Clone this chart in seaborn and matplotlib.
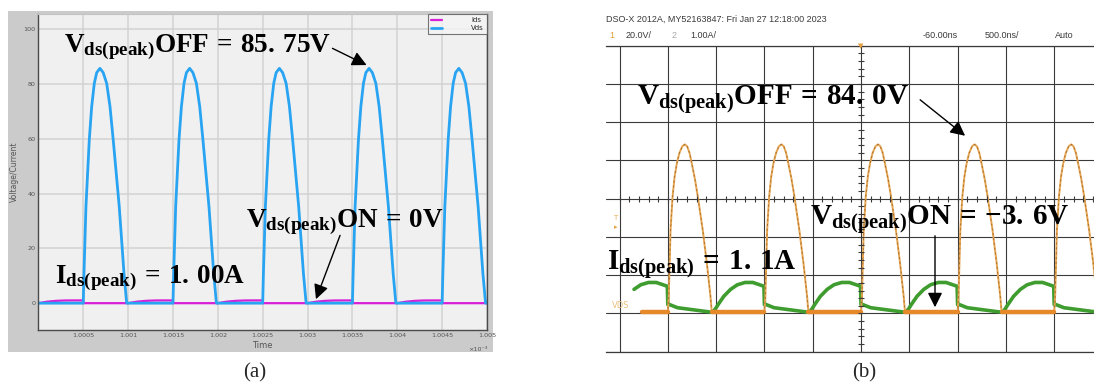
import numpy as np
import pandas as pd
import matplotlib
matplotlib.use("Agg")
import matplotlib.pyplot as plt
import seaborn as sns

# ---------------- (a) simulation: time in ms (axis reads x10^-3 s) ----------------
a_rise = [1.0005, 1.0015, 1.0025, 1.0035, 1.0045]
a_pulse_dt = [0, 0.000008, 0.00003, 0.000067, 0.000094, 0.000123, 0.00015, 0.000186,
              0.000222, 0.000261, 0.000298, 0.000334, 0.000401, 0.000454, 0.000484]
a_pulse_v = [0, 10.9, 35.3, 59.6, 71.8, 80.3, 84.2, 85.75, 84.2, 80.3, 71.8, 59.6, 35.3, 10.9, 0]
a_ids_start = [1.000, 1.001, 1.002, 1.003, 1.004]
a_ids_dt = [0, 0.0001, 0.0002, 0.0003, 0.0004, 0.0005]
a_ids_val = [0.0, 0.55, 0.85, 0.98, 1.0, 1.0]
a_xticks = [1.0005, 1.001, 1.0015, 1.002, 1.0025, 1.003, 1.0035, 1.004, 1.0045, 1.005]
a_xlabels = ["1.0005", "1.001", "1.0015", "1.002", "1.0025", "1.003",
             "1.0035", "1.004", "1.0045", "1.005"]
a_yticks = [0, 20, 40, 60, 80, 100]

# ---------------- (b) oscilloscope: time in us, 0.5 us/div ----------------
b_rise = [-2.0, -1.0, 0.0, 1.0, 2.0]
b_vds_dt = [0, 0.01, 0.028, 0.049, 0.07, 0.093, 0.12, 0.15, 0.176, 0.2, 0.225,
            0.248, 0.28, 0.311, 0.362, 0.404, 0.442, 0.455]
b_vds_v = [-3.6, 5, 39, 56.6, 67, 74, 79.5, 83, 84, 83, 79.5,
           74, 66, 56.6, 39, 22, 4.3, -3.6]
b_vds_begin = -2.27
b_ids_cycle = [-3.0, -2.0, -1.0, 0.0, 1.0, 2.0]
b_ids_dt = [0, 0.02, 0.1, 0.25, 0.4, 0.46, 0.49, 0.52, 0.58, 0.65, 0.72, 0.8, 0.88, 0.95, 0.995]
b_ids_a = [0.5, 0.5, 0.42, 0.37, 0.32, 0.3, 0.38, 0.5, 0.72, 0.9, 1.02, 1.08, 1.08, 1.02, 0.98]
b_ids_begin = -2.41
b_sec_div = 0.5      # us/div
b_volt_div = 20.0    # V/div
b_amp_div = 1.0      # A/div
b_ch1_pos = -2.78    # ground marker, div
b_ch2_pos = -3.27

# ---- build traces
rows = [(1.0, 0.0)]
for r in a_rise:
    rows += [(r + d, v) for d, v in zip(a_pulse_dt, a_pulse_v)]
rows.append((1.005, 0.0))
vds_a = pd.DataFrame(rows, columns=["t", "v"])

rows = []
for s in a_ids_start:
    rows += [(s + d, v) for d, v in zip(a_ids_dt, a_ids_val)]
    rows.append((s + 0.0005, 0.0))
rows.append((1.005, 0.0))
ids_a = pd.DataFrame(rows, columns=["t", "v"])

rows, on_rows = [(b_vds_begin, b_vds_v[0])], [(b_vds_begin, b_vds_v[0], 0)]
for k, r in enumerate(b_rise):
    rows += [(r + d, v) for d, v in zip(b_vds_dt, b_vds_v)]
    on_rows.append((r, b_vds_v[0], k))
    on_rows.append((r + b_vds_dt[-1], b_vds_v[-1], k + 1))
rows.append((2.6, b_vds_v[0]))
on_rows.append((2.6, b_vds_v[0], len(b_rise)))
vds_b = pd.DataFrame(rows, columns=["t", "v"])
vds_b["x"] = vds_b["t"] / b_sec_div
vds_b["y"] = vds_b["v"] / b_volt_div + b_ch1_pos
on_b = pd.DataFrame(on_rows, columns=["t", "v", "seg"])
on_b["x"] = on_b["t"] / b_sec_div
on_b["y"] = on_b["v"] / b_volt_div + b_ch1_pos

rows = []
for c in b_ids_cycle:
    rows += [(c + d, i) for d, i in zip(b_ids_dt, b_ids_a)]
ids_b = pd.DataFrame(rows, columns=["t", "i"])
ids_b = ids_b[ids_b["t"] >= b_ids_begin]
ids_b["x"] = ids_b["t"] / b_sec_div
ids_b["y"] = ids_b["i"] / b_amp_div + b_ch2_pos

# ---- style
sns.set_style("white")
plt.rcParams["font.family"] = ["DejaVu Sans"]
plt.rcParams["mathtext.fontset"] = "custom"
plt.rcParams["mathtext.rm"] = "Liberation Serif:bold"
plt.rcParams["mathtext.bf"] = "Liberation Serif:bold"
plt.rcParams["mathtext.it"] = "Liberation Serif:bold"

W, H = 1094, 385
fig = plt.figure(figsize=(W / 100, H / 100), dpi=100)


def box(l, t, r, b):
    return [l / W, 1 - b / H, (r - l) / W, (b - t) / H]


# grey window frame behind panel (a)
bg = fig.add_axes(box(8, 11, 493, 352))
bg.set_facecolor("#cbcbcb")
bg.set_xticks([])
bg.set_yticks([])
for s in bg.spines.values():
    s.set_visible(False)

# ================= panel (a) =================
axa = fig.add_axes(box(38.4, 14, 487, 330))
axa.set_facecolor("#f0f0f0")
sns.lineplot(data=ids_a, x="t", y="v", ax=axa, color="#d81fd8", lw=1.6,
             estimator=None, sort=False, label="Ids")
sns.lineplot(data=vds_a, x="t", y="v", ax=axa, color="#28a4f2", lw=2.0,
             estimator=None, sort=False, label="Vds")
axa.set_xlim(1.0, 1.005)
axa.set_ylim(-9.8, 105.6)
axa.set_xticks(a_xticks, a_xlabels)
axa.set_yticks(a_yticks, [str(v) for v in a_yticks])
axa.grid(True, color="#d2d2d2", lw=1.1)
axa.set_axisbelow(True)
axa.tick_params(direction="in", length=2, labelsize=4.6, colors="#555555", pad=2)
for s in ["left", "bottom", "right"]:
    axa.spines[s].set_color("#4a4a4a")
    axa.spines[s].set_linewidth(1.0)
axa.spines["top"].set_color("#c4c4c4")
axa.set_xlabel("Time", fontsize=6, color="#555555", labelpad=2.5)
axa.set_ylabel("Voltage/Current", fontsize=5.5, color="#555555", labelpad=3)
axa.text(1.0, -0.055, "×10⁻³", transform=axa.transAxes, ha="right", va="top",
         fontsize=4.6, color="#555555")
leg = axa.legend(loc="upper right", fontsize=5, frameon=True, fancybox=False,
                 edgecolor="#555555", borderaxespad=0.0, handlelength=1.6,
                 handletextpad=4.2, labelspacing=0.3, borderpad=0.45)
leg.get_frame().set_linewidth(0.8)
leg.get_frame().set_facecolor("#f4f4f4")

lab_a = dict(fontsize=19.5, color="black", va="baseline", ha="left")
lab_b = dict(fontsize=21, color="black", va="baseline", ha="left")
arr = dict(arrowstyle="-|>", color="black", lw=1.0, mutation_scale=22)
axa.text(1.000285, 91.7, r"$\mathbf{V}_{\mathbf{ds(peak)}}\mathbf{OFF}\,=\,\mathbf{85.\,75V}$", **lab_a)
axa.annotate("", xy=(1.003686, 86.5), xytext=(1.003250, 93.5), arrowprops=arr)
axa.text(1.002314, 27.8, r"$\mathbf{V}_{\mathbf{ds(peak)}}\mathbf{ON}\,=\,\mathbf{0V}$", **lab_a)
axa.annotate("", xy=(1.003083, 0.5), xytext=(1.003373, 25.7), arrowprops=arr)
axa.text(1.000185, 7.4, r"$\mathbf{I}_{\mathbf{ds(peak)}}\,=\,\mathbf{1.\,00A}$", **lab_a)

fig.text(255 / W, 1 - 373 / H, "(a)", fontsize=15, family="Liberation Serif",
         ha="center", va="center")

# ================= panel (b) =================
axb = fig.add_axes(box(606, 45.7, 1102.5, 351.7))
axb.set_facecolor("white")
sns.lineplot(data=ids_b, x="x", y="y", ax=axb, color="#3f9c2f", lw=2.6,
             estimator=None, sort=False)
sns.lineplot(data=vds_b, x="x", y="y", ax=axb, color="#e6a551", lw=1.4,
             estimator=None, sort=False)
sns.lineplot(data=vds_b, x="x", y="y", ax=axb, color="#7a4a1a", lw=0.7,
             estimator=None, sort=False, alpha=0.6, linestyle=(0, (2, 3)))
sns.lineplot(data=on_b, x="x", y="y", units="seg", ax=axb, color="#e5892a", lw=3.2,
             estimator=None, sort=False)
axb.set_xlim(-5.28, 5.0)
axb.set_ylim(-4, 4)
axb.set_xticks(np.arange(-5, 6))
axb.set_yticks(np.arange(-4, 5))
axb.grid(True, color="#3a3a3a", lw=0.8)
axb.set_axisbelow(True)
axb.tick_params(length=0, labelbottom=False, labelleft=False)
axb.set_xlabel("")
axb.set_ylabel("")
for s in ["left", "right"]:
    axb.spines[s].set_visible(False)
for s in ["top", "bottom"]:
    axb.spines[s].set_color("#3a3a3a")
    axb.spines[s].set_linewidth(0.9)
fine = np.arange(-25, 26) / 5
axb.plot(fine, np.zeros(len(fine)), ls="none", marker="|", ms=4, mew=0.8, color="#3a3a3a")
finey = np.arange(-20, 21) / 5
axb.plot(np.zeros(len(finey)), finey, ls="none", marker="_", ms=4, mew=0.8, color="#3a3a3a")

axb.text(-5.15, b_ch1_pos, "VDS", fontsize=6, color="#ecc27d", va="center", ha="left")
axb.text(-5.08, -0.5, "T", fontsize=5, color="#e8b060", va="center", ha="center")
axb.text(-5.08, -0.74, "▸", fontsize=5, color="#e8a040", va="center", ha="center")
axb.text(0, 4.0, "▼", fontsize=5, color="#e8a040", va="center", ha="center")

axb.text(-4.64, 2.45, r"$\mathbf{V}_{\mathbf{ds(peak)}}\mathbf{OFF}\,=\,\mathbf{84.\,0V}$", **lab_b)
axb.annotate("", xy=(2.2, 1.6), xytext=(1.18, 2.63), arrowprops=arr)
axb.text(-1.056, -0.688, r"$\mathbf{V}_{\mathbf{ds(peak)}}\mathbf{ON}\,=\,{-}\mathbf{3.\,6V}$", **lab_b)
axb.annotate("", xy=(1.532, -2.91), xytext=(1.532, -0.897), arrowprops=arr)
axb.text(-5.26, -1.864, r"$\mathbf{I}_{\mathbf{ds(peak)}}\,=\,\mathbf{1.\,1A}$", **lab_b)

hdr = dict(family=["Liberation Sans", "DejaVu Sans"], fontsize=6.5,
           color="#3a3a3a", va="center", ha="left")
fig.text(606 / W, 1 - 19 / H, "DSO-X 2012A, MY52163847: Fri Jan 27 12:18:00 2023", **hdr)
fig.text(609 / W, 1 - 35 / H, "1", **{**hdr, "color": "#e0a030"})
fig.text(626 / W, 1 - 35 / H, "20.0V/", **hdr)
fig.text(672 / W, 1 - 35 / H, "2", **{**hdr, "color": "#a8a8a8"})
fig.text(690 / W, 1 - 35 / H, "1.00A/", **hdr)
fig.text(923 / W, 1 - 35 / H, "-60.00ns", **hdr)
fig.text(985 / W, 1 - 35 / H, "500.0ns/", **hdr)
fig.text(1055 / W, 1 - 35 / H, "Auto", **hdr)

fig.text(864 / W, 1 - 373 / H, "(b)", fontsize=15, family="Liberation Serif",
         ha="center", va="center")

fig.savefig("out.png", dpi=100)
